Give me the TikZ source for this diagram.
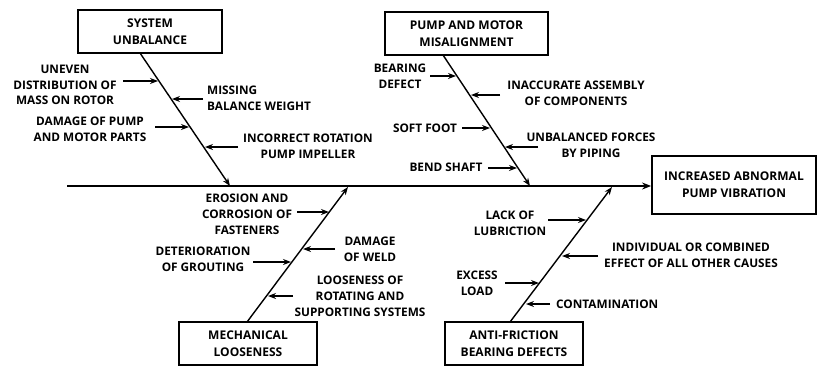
\documentclass[tikz,border=0pt]{standalone}
\usepackage{fontspec}
\setmainfont{Open Sans}
\usetikzlibrary{arrows.meta}
\tikzset{
  lbl/.style={font=\fontsize{11.8}{15.8}\selectfont\bfseries, align=center, inner sep=0pt},
  catbox/.style={draw, line width=1.8pt, font=\fontsize{12}{17}\selectfont\bfseries, align=center, inner sep=0pt},
  bone/.style={line width=1.4pt, -{Stealth[length=8pt,width=6pt]}},
  cause/.style={line width=1.3pt, -{Stealth[length=8pt,width=6pt]}},
  spine/.style={line width=2pt, -{Stealth[length=9pt,width=7pt]}}
}
\begin{document}
\begin{tikzpicture}[x=1pt,y=-1pt]
\useasboundingbox (0,0) rectangle (818,367);
\fill[white] (0,0) rectangle (818,367);
% boxes
\node[catbox, minimum width=144pt, minimum height=43pt] (sys) at (150,31.5) {SYSTEM\\UNBALANCE};
\node[catbox, minimum width=163pt, minimum height=43pt] (pump) at (466.5,33.5) {PUMP AND MOTOR\\MISALIGNMENT};
\node[catbox, minimum width=138pt, minimum height=43pt] (mech) at (248,343.5) {MECHANICAL\\LOOSENESS};
\node[catbox, minimum width=138pt, minimum height=43pt] (anti) at (514,343.5) {ANTI-FRICTION\\BEARING DEFECTS};
\node[catbox, minimum width=164pt, minimum height=58pt] (eff) at (734,185) {INCREASED ABNORMAL\\PUMP VIBRATION};
% spine
\coordinate (sp0) at (67,186);
\draw[spine] (sp0) -- (sp0 -| eff.west);
% bone points
\coordinate (sysT) at (140,53);  \coordinate (sysE) at (230,186);
\coordinate (pmpT) at (443,55);  \coordinate (pmpE) at (530,186);
\coordinate (mecT) at (247,322); \coordinate (mecE) at (348,187);
\coordinate (antT) at (510,322); \coordinate (antE) at (612,187);
\draw[bone] (sysT) -- (sysE);
\draw[bone] (pmpT) -- (pmpE);
\draw[bone] (mecT) -- (mecE);
\draw[bone] (antT) -- (antE);
% labels: system unbalance
\node[lbl] (l1) at (65,85) {UNEVEN\\DISTRIBUTION OF\\MASS ON ROTOR};
\node[lbl, align=left, anchor=west] (l2) at (207,98.5) {MISSING\\BALANCE WEIGHT};
\node[lbl] (l3) at (90,129) {DAMAGE OF PUMP\\AND MOTOR PARTS};
\node[lbl] (l4) at (308,146) {INCORRECT ROTATION\\PUMP IMPELLER};
% labels: pump and motor
\node[lbl] (l5) at (400,76) {BEARING\\DEFECT};
\node[lbl] (l6) at (576,93) {INACCURATE ASSEMBLY\\OF COMPONENTS};
\node[lbl] (l7) at (425,128) {SOFT FOOT};
\node[lbl] (l8) at (591,145) {UNBALANCED FORCES\\BY PIPING};
\node[lbl] (l9) at (446,167) {BEND SHAFT};
% labels: mechanical
\node[lbl] (m1) at (247,214) {EROSION AND\\CORROSION OF\\FASTENERS};
\node[lbl] (m2) at (370,249) {DAMAGE\\OF WELD};
\node[lbl] (m3) at (203,259.5) {DETERIORATION\\OF GROUTING};
\node[lbl] (m4) at (360,296) {LOOSENESS OF\\ROTATING AND\\SUPPORTING SYSTEMS};
% labels: anti-friction
\node[lbl] (n1) at (510,223) {LACK OF\\LUBRICTION};
\node[lbl] (n2) at (691,255.5) {INDIVIDUAL OR COMBINED\\EFFECT OF ALL OTHER CAUSES};
\node[lbl] (n3) at (477,283) {EXCESS\\LOAD};
\node[lbl, anchor=west] (n4) at (556,304) {CONTAMINATION};
% cause arrows
\draw[cause] (123,81) coordinate (a1s) -- (158,81) coordinate (a1e);
\draw[cause] (203,99) coordinate (a2s) -- (172,99) coordinate (a2e);
\draw[cause] (155,127) coordinate (a3s) -- (189,127) coordinate (a3e);
\draw[cause] (238,147) coordinate (a4s) -- (205,147) coordinate (a4e);
\draw[cause] (430,76) coordinate (b1s) -- (456,76) coordinate (b1e);
\draw[cause] (500,95) coordinate (b2s) -- (471,95) coordinate (b2e);
\draw[cause] (462,128) coordinate (b3s) -- (490,128) coordinate (b3e);
\draw[cause] (538,147) coordinate (b4s) -- (505,147) coordinate (b4e);
\draw[cause] (488,168) coordinate (b5s) -- (517,168) coordinate (b5e);
\draw[cause] (297,212) coordinate (c1s) -- (329,212) coordinate (c1e);
\draw[cause] (335,249) coordinate (c2s) -- (303,249) coordinate (c2e);
\draw[cause] (253,262) coordinate (c3s) -- (291,262) coordinate (c3e);
\draw[cause] (293,296) coordinate (c4s) -- (268,296) coordinate (c4e);
\draw[cause] (548,220) coordinate (d1s) -- (586,220) coordinate (d1e);
\draw[cause] (598,256) coordinate (d2s) -- (562,256) coordinate (d2e);
\draw[cause] (505,283) coordinate (d3s) -- (539,283) coordinate (d3e);
\draw[cause] (550,304) coordinate (d4s) -- (526,304) coordinate (d4e);
\end{tikzpicture}
\end{document}
